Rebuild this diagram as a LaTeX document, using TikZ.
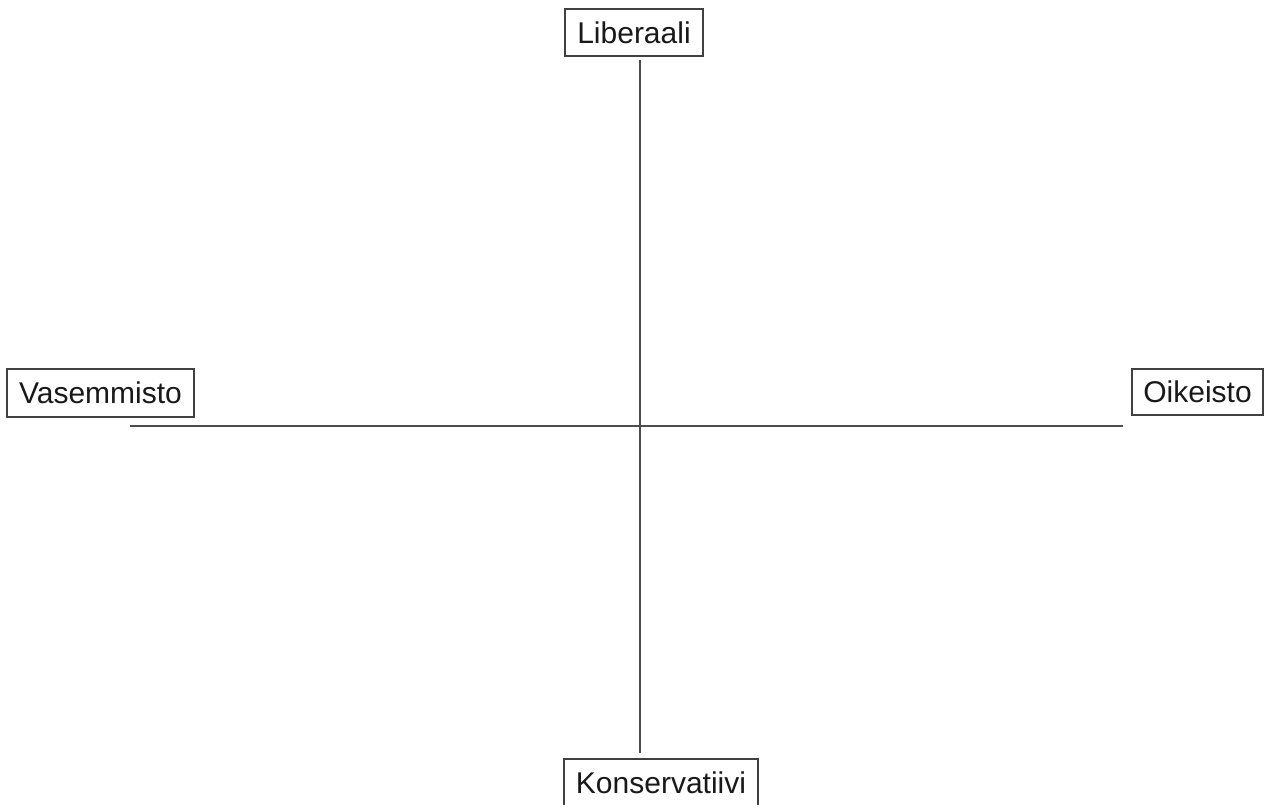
\documentclass[tikz,border=0pt]{standalone}
\usepackage{fontspec}
\setmainfont{Liberation Sans}
\begin{document}
\begin{tikzpicture}[x=1pt,y=-1pt,
  lbl/.style={draw=black!75,line width=1.1pt,fill=white,inner sep=0pt,
    font=\fontsize{30}{36}\selectfont,text=black!90},
  axis/.style={draw=black!70,line width=1.1pt}]
\useasboundingbox (0,0) rectangle (1265,805);
\clip (0,0) rectangle (1265,805);
\coordinate (vt) at (640,60);
\coordinate (vb) at (640,753);
\coordinate (hl) at (130,426);
\coordinate (hr) at (1123,426);
\draw[axis] (vt) -- (vb);
\draw[axis] (hl) -- (hr);
\node[lbl,minimum width=138,minimum height=47] (lib) at (634,32.5) {Liberaali};
\node[lbl,minimum width=187,minimum height=48] (vas) at (100.5,393) {Vasemmisto};
\node[lbl,minimum width=131,minimum height=46] (oik) at (1197.5,392) {Oikeisto};
\node[lbl,minimum width=194,minimum height=50,text depth=0pt] (kon) at (661,784) {\raisebox{2pt}{Konservatiivi}};
\end{tikzpicture}
\end{document}
